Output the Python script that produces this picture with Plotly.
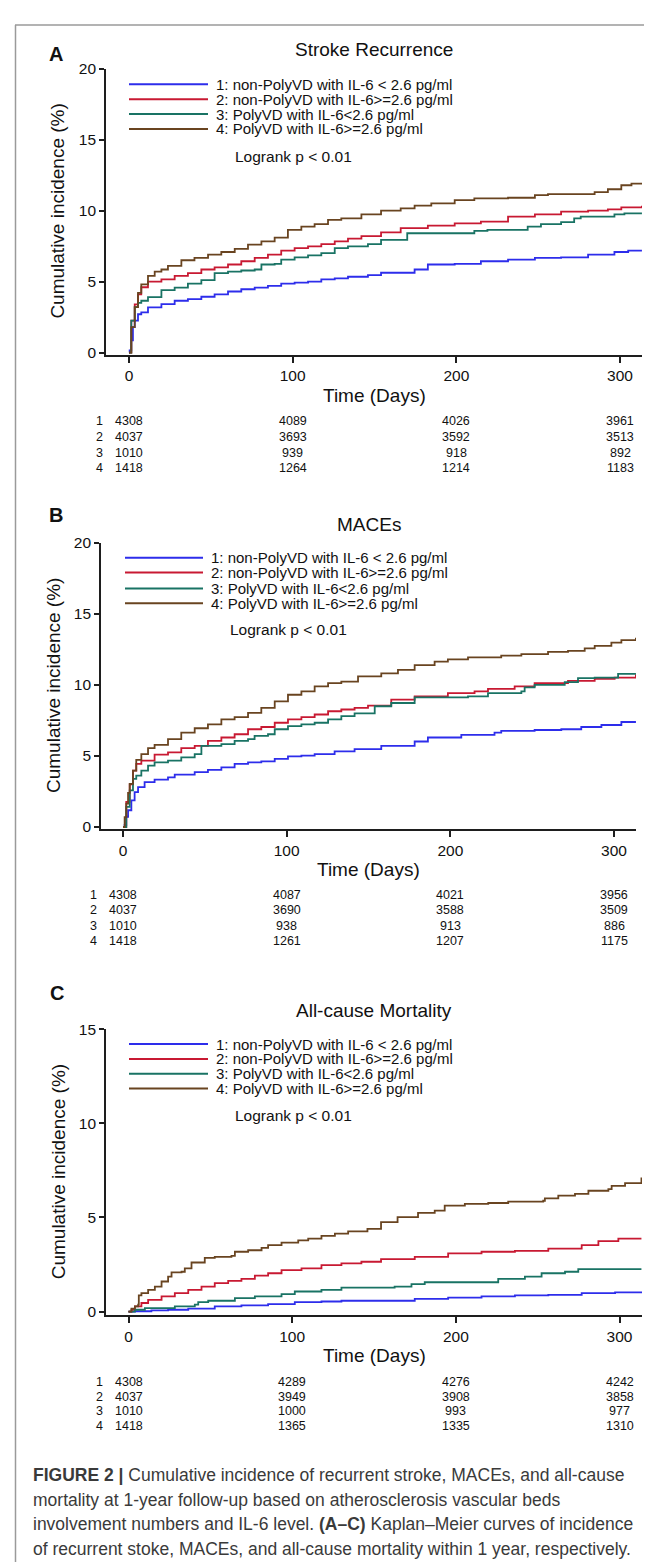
import plotly.graph_objects as go

W, H = 652, 1562
FONT = "Liberation Sans, Arial, sans-serif"

# ---------------- data ----------------
group_labels = ["1: non-PolyVD with IL-6 < 2.6 pg/ml",
                "2: non-PolyVD with IL-6>=2.6 pg/ml",
                "3: PolyVD with IL-6<2.6 pg/ml",
                "4: PolyVD with IL-6>=2.6 pg/ml"]
group_colors = ["rgb(45,45,235)", "rgb(200,25,50)", "rgb(25,115,100)", "rgb(105,68,32)"]
panel_titles = ["Stroke Recurrence", "MACEs", "All-cause Mortality"]
panel_letters = ["A", "B", "C"]
x_ticks = [0, 100, 200, 300]
risk_times = [0, 100, 200, 300]

# Panel A - stroke recurrence
A1_t = [0, 0.4, 1.4, 2.4, 3.5, 5.5, 7.5, 11.6, 19.8, 27.9, 36, 44.2, 52.3, 60.5, 68.6, 76.8, 84.9, 93, 101.2, 109.4, 117.5, 125.7, 133.8, 146, 154, 174.5, 182.6, 199, 215, 231.6, 248, 264, 280.5, 296.6, 305, 313.4]
A1_v = [0, 0.16, 0.86, 1.8, 2.25, 2.7, 2.83, 3.18, 3.41, 3.65, 3.76, 3.93, 4.1, 4.3, 4.46, 4.58, 4.69, 4.85, 4.92, 5.0, 5.16, 5.23, 5.34, 5.45, 5.62, 5.85, 6.2, 6.25, 6.43, 6.55, 6.67, 6.7, 6.9, 7.08, 7.18, 7.18]
A2_t = [0, 1.4, 3.5, 5.5, 7.5, 11.6, 19.8, 27.9, 36, 44.2, 52.3, 60.5, 68.6, 76.8, 84.9, 93, 101.2, 109.4, 117.5, 125.7, 133.8, 142, 154, 166, 182.6, 199, 215, 231.6, 248, 264, 280.5, 292.6, 300.8, 313.4]
A2_v = [0, 2.25, 3.4, 4.1, 4.6, 5.0, 5.16, 5.4, 5.6, 5.85, 6.0, 6.2, 6.43, 6.67, 6.9, 7.18, 7.36, 7.48, 7.64, 7.83, 8.03, 8.2, 8.46, 8.76, 8.94, 9.1, 9.22, 9.57, 9.73, 9.92, 10.0, 10.08, 10.22, 10.34]
A3_t = [0, 1.4, 3.5, 5.5, 7.5, 11.6, 19.8, 27.9, 36, 44.2, 52.3, 60.5, 68.6, 76.8, 80.9, 89, 93, 101.2, 109.4, 117.5, 125.7, 133.8, 146, 154, 170, 211, 219, 243.6, 251.7, 264, 272, 276, 296.6, 302.7, 313.4]
A3_v = [0, 2.25, 3.2, 3.5, 3.65, 3.9, 4.4, 4.58, 4.85, 5.1, 5.6, 5.7, 5.78, 5.85, 6.2, 6.25, 6.55, 6.7, 6.85, 7.0, 7.36, 7.48, 7.64, 7.94, 8.4, 8.57, 8.64, 8.87, 9.04, 9.18, 9.45, 9.57, 9.73, 9.8, 9.8]
A4_t = [0, 1.4, 3.5, 5.5, 7.5, 11.6, 15.7, 19.8, 23.8, 32, 40, 48.3, 56.4, 64.6, 72.7, 80.9, 89, 97.1, 105.3, 113.4, 121.6, 129.7, 142, 154, 166, 174.5, 184.7, 199, 211, 231.6, 248, 256, 278.4, 284.5, 292.6, 300.8, 307, 313.4]
A4_v = [0, 1.8, 3.2, 4.2, 4.8, 5.4, 5.7, 5.85, 6.1, 6.5, 6.67, 6.9, 7.08, 7.3, 7.6, 7.83, 8.1, 8.64, 8.87, 9.04, 9.34, 9.45, 9.73, 10.0, 10.15, 10.34, 10.5, 10.73, 10.85, 10.9, 11.08, 11.15, 11.15, 11.3, 11.5, 11.78, 11.9, 11.96]
A_risk = [[4308, 4089, 4026, 3961], [4037, 3693, 3592, 3513], [1010, 939, 918, 892], [1418, 1264, 1214, 1183]]

# Panel B - MACEs
B1_t = [0, 1, 2, 3.1, 5.1, 7.1, 9.2, 13.2, 19.3, 27.5, 31.6, 43.8, 51.9, 60.1, 68.2, 76.4, 84.5, 92.7, 100.8, 109, 117.1, 129.3, 141.5, 157.8, 178.2, 186.3, 206.7, 227, 231.1, 251.5, 267.8, 280, 292.3, 304.5, 313.4]
B1_v = [0, 0.14, 0.72, 1.18, 1.88, 2.46, 2.81, 3.16, 3.34, 3.5, 3.69, 3.86, 4.02, 4.2, 4.44, 4.55, 4.62, 4.79, 4.97, 5.02, 5.13, 5.32, 5.48, 5.71, 6.02, 6.3, 6.48, 6.64, 6.76, 6.83, 6.88, 7.04, 7.18, 7.39, 7.39]
B2_t = [0, 2, 4.1, 6.1, 8.1, 11.2, 19.3, 27.5, 35.6, 43.8, 51.9, 60.1, 68.2, 76.4, 84.5, 92.7, 100.8, 109, 117.1, 125.3, 133.4, 141.5, 149.7, 163.9, 178.2, 198.5, 214.8, 223, 239.3, 251.5, 271.9, 288.2, 300.4, 313.4]
B2_v = [0, 1.77, 3.0, 3.97, 4.44, 4.67, 5.09, 5.25, 5.55, 5.71, 6.06, 6.3, 6.53, 6.88, 7.04, 7.34, 7.57, 7.74, 7.92, 8.15, 8.27, 8.39, 8.55, 8.97, 9.2, 9.43, 9.55, 9.73, 9.9, 10.13, 10.29, 10.43, 10.52, 10.75]
B3_t = [0, 2, 4.1, 6.1, 8.1, 11.2, 15.3, 19.3, 27.5, 35.6, 43.8, 47.9, 60.1, 68.2, 76.4, 80.4, 88.6, 92.7, 100.8, 109, 117.1, 125.3, 133.4, 141.5, 153.8, 163.9, 178.2, 210.8, 223, 243.4, 245.4, 251.5, 269.9, 278, 288.2, 302.5, 313.4]
B3_v = [0, 1.42, 2.58, 3.39, 3.62, 3.97, 4.32, 4.55, 4.67, 4.9, 5.13, 5.71, 5.83, 6.06, 6.18, 6.41, 6.53, 6.88, 7.1, 7.22, 7.34, 7.57, 7.8, 8.0, 8.5, 8.73, 9.13, 9.2, 9.43, 9.55, 9.83, 10.0, 10.2, 10.48, 10.52, 10.78, 10.78]
B4_t = [0, 1, 2, 3.1, 4.1, 6.1, 8.1, 11.2, 15.3, 19.3, 27.5, 35.6, 43.8, 51.9, 60.1, 68.2, 76.4, 84.5, 92.7, 100.8, 109, 117.1, 125.3, 133.4, 143.6, 157.8, 168, 178.2, 190.4, 198.5, 210.8, 231.1, 243.4, 259.7, 271.9, 282.1, 288.2, 298.4, 304.5, 313.4]
B4_v = [0, 0.7, 1.65, 2.4, 3.04, 3.97, 4.72, 5.13, 5.55, 5.78, 6.18, 6.64, 6.95, 7.22, 7.57, 7.74, 8.04, 8.39, 8.85, 9.31, 9.55, 9.9, 10.13, 10.24, 10.6, 10.82, 11.06, 11.4, 11.64, 11.8, 11.94, 12.06, 12.17, 12.33, 12.4, 12.57, 12.75, 12.98, 13.15, 13.33]
B_risk = [[4308, 4087, 4021, 3956], [4037, 3690, 3588, 3509], [1010, 938, 913, 886], [1418, 1261, 1207, 1175]]

# Panel C - all-cause mortality
C1_t = [0, 3.9, 14, 24.2, 36.5, 52.7, 69, 85.3, 101.6, 117.9, 130.1, 174.9, 195.3, 215.7, 236.1, 256.5, 276.9, 297.3, 313.4]
C1_v = [0, 0.02, 0.07, 0.1, 0.16, 0.28, 0.33, 0.4, 0.51, 0.54, 0.58, 0.68, 0.75, 0.81, 0.86, 0.89, 0.98, 1.02, 1.07]
C2_t = [0, 1.8, 3.9, 7.9, 12, 20.2, 28.3, 36.5, 44.6, 52.7, 60.9, 69, 77.2, 85.3, 93.5, 105.7, 117.9, 130.1, 142.3, 154.3, 174.9, 195.3, 215.7, 236.1, 256.5, 276.9, 287.1, 299.3, 313.4]
C2_v = [0, 0.1, 0.28, 0.46, 0.63, 0.81, 0.98, 1.16, 1.33, 1.51, 1.63, 1.74, 1.91, 2.04, 2.21, 2.3, 2.47, 2.56, 2.65, 2.79, 2.91, 3.09, 3.18, 3.23, 3.35, 3.53, 3.74, 3.88, 3.88]
C3_t = [0, 3.9, 10, 28.3, 40.5, 42.6, 48.7, 65, 77.2, 93.5, 101.6, 117.9, 130.1, 162.6, 172.9, 181, 225.9, 242.2, 252.4, 266.7, 274.8, 313.4]
C3_v = [0, 0.1, 0.19, 0.28, 0.37, 0.51, 0.58, 0.72, 0.81, 0.93, 1.07, 1.16, 1.28, 1.33, 1.46, 1.56, 1.74, 1.86, 2.04, 2.12, 2.26, 2.26]
C4_t = [0, 1.8, 3.9, 5.9, 6.3, 7.9, 12, 16.1, 20.2, 24.2, 26.3, 32.4, 34.4, 38.5, 46.6, 52.7, 62.9, 65, 73.1, 81.3, 85.3, 93.5, 103.7, 109.8, 117.9, 126.1, 134.2, 146, 154.3, 164.4, 176.9, 187.1, 193.2, 205.5, 219.8, 232, 253.4, 254.4, 262.6, 272.8, 281, 293.2, 295.2, 303.4, 313.4]
C4_v = [0, 0.16, 0.28, 0.37, 0.86, 0.98, 1.16, 1.33, 1.6, 1.86, 2.09, 2.12, 2.3, 2.61, 2.86, 2.91, 2.96, 3.18, 3.26, 3.39, 3.53, 3.67, 3.79, 3.88, 4.02, 4.14, 4.26, 4.4, 4.75, 5.02, 5.25, 5.37, 5.63, 5.72, 5.77, 5.84, 5.89, 6.02, 6.16, 6.25, 6.42, 6.51, 6.68, 6.82, 7.12]
C_risk = [[4308, 4289, 4276, 4242], [4037, 3949, 3908, 3858], [1010, 1000, 993, 977], [1418, 1365, 1335, 1310]]

caption_lines = [
    "<b>FIGURE 2 |</b> Cumulative incidence of recurrent stroke, MACEs, and all-cause",
    "mortality at 1-year follow-up based on atherosclerosis vascular beds",
    "involvement numbers and IL-6 level. <b>(A–C)</b> Kaplan–Meier curves of incidence",
    "of recurrent stoke, MACEs, and all-cause mortality within 1 year, respectively.",
]

panels = [
    dict(curves=[(A1_t, A1_v), (A2_t, A2_v), (A3_t, A3_v), (A4_t, A4_v)], risk=A_risk,
         ymax=20, yticks=[0, 5, 10, 15, 20]),
    dict(curves=[(B1_t, B1_v), (B2_t, B2_v), (B3_t, B3_v), (B4_t, B4_v)], risk=B_risk,
         ymax=20, yticks=[0, 5, 10, 15, 20]),
    dict(curves=[(C1_t, C1_v), (C2_t, C2_v), (C3_t, C3_v), (C4_t, C4_v)], risk=C_risk,
         ymax=15, yticks=[0, 5, 10, 15]),
]

# ---------------- layout geometry (pixels) ----------------
geo = [
    dict(x0=98, x1=634, t0=121, yt=52, yb=341, ymin=-0.15, letter=(48, 37), title_y=33,
         leg_x=(121, 200), leg_tx=206, leg_y=[68, 83, 98, 113], logrank=(225, 141),
         ytitle_x=50, xtick_y=360, xtitle_y=382, risk_y=[408, 424, 440, 455], rownum_x=91),
    dict(x0=93, x1=628, t0=115, yt=531, yb=820, ymin=-0.15, letter=(48, 503), title_y=512,
         leg_x=(117, 195), leg_tx=201, leg_y=[546, 561, 577, 592], logrank=(220, 618),
         ytitle_x=45, xtick_y=839, xtitle_y=861, risk_y=[887, 902, 918, 933], rownum_x=86),
    dict(x0=98, x1=634, t0=120.5, yt=1022, yb=1311, ymin=-0.2, letter=(49, 985), title_y=1003,
         leg_x=(121, 200), leg_tx=206, leg_y=[1037, 1052, 1067, 1082], logrank=(225, 1109),
         ytitle_x=50, xtick_y=1328, xtitle_y=1351, risk_y=[1378, 1393, 1408, 1423], rownum_x=91),
]
PX_PER_DAY = (612 - 121) / 300.0


def X(px):
    return px / W


def Y(py):
    return 1 - py / H


fig = go.Figure()
annotations = []
shapes = []

for i, (p, g) in enumerate(zip(panels, geo)):
    ax = "" if i == 0 else str(i + 1)
    xa, ya = "x" + ax, "y" + ax
    for k, (t, v) in enumerate(p["curves"]):
        fig.add_trace(go.Scatter(x=t, y=v, mode="lines", xaxis=xa, yaxis=ya,
                                 line=dict(color=group_colors[k], width=1.8, shape="hv"),
                                 showlegend=False, hoverinfo="skip"))
    xr = [(g["x0"] - g["t0"]) / PX_PER_DAY, (g["x1"] - g["t0"]) / PX_PER_DAY]
    axis_common = dict(showline=True, linecolor="#1e1e1e", linewidth=1.6, ticks="outside",
                       tickcolor="#1e1e1e", tickwidth=1.5, showgrid=False, zeroline=False,
                       tickfont=dict(family=FONT, size=15.5, color="#111"))
    fig.update_layout(**{
        "xaxis" + ax: dict(domain=[X(g["x0"]), X(g["x1"])], range=xr, tickvals=x_ticks,
                           ticklen=6, anchor=ya, **axis_common),
        "yaxis" + ax: dict(domain=[Y(g["yb"]), Y(g["yt"])], range=[g["ymin"], p["ymax"]],
                           tickvals=p["yticks"], ticklen=5, anchor=xa, **axis_common),
    })
    # panel letter and title
    annotations.append(dict(x=X(g["letter"][0]), y=Y(g["letter"][1]), xref="paper", yref="paper",
                            text="<b>%s</b>" % panel_letters[i], showarrow=False,
                            font=dict(family=FONT, size=20, color="#111"), xanchor="center", yanchor="middle"))
    annotations.append(dict(x=X((g["x0"] + g["x1"]) / 2), y=Y(g["title_y"]), xref="paper", yref="paper",
                            text=panel_titles[i], showarrow=False,
                            font=dict(family=FONT, size=19, color="#111"), xanchor="center", yanchor="middle"))
    # legend
    for k in range(4):
        shapes.append(dict(type="line", xref="paper", yref="paper",
                           x0=X(g["leg_x"][0]), x1=X(g["leg_x"][1]), y0=Y(g["leg_y"][k]), y1=Y(g["leg_y"][k]),
                           line=dict(color=group_colors[k], width=2)))
        annotations.append(dict(x=X(g["leg_tx"]), y=Y(g["leg_y"][k]), xref="paper", yref="paper",
                                text=group_labels[k], showarrow=False, xanchor="left", yanchor="middle",
                                font=dict(family=FONT, size=15, color="#111")))
    annotations.append(dict(x=X(g["logrank"][0]), y=Y(g["logrank"][1]), xref="paper", yref="paper",
                            text="Logrank p < 0.01", showarrow=False, xanchor="left", yanchor="middle",
                            font=dict(family=FONT, size=15.5, color="#111")))
    # axis titles
    annotations.append(dict(x=X(g["ytitle_x"]), y=Y((g["yt"] + g["yb"]) / 2), xref="paper", yref="paper",
                            text="Cumulative incidence (%)", textangle=-90, showarrow=False,
                            xanchor="center", yanchor="middle",
                            font=dict(family=FONT, size=19, color="#111")))
    annotations.append(dict(x=X((g["x0"] + g["x1"]) / 2), y=Y(g["xtitle_y"]), xref="paper", yref="paper",
                            text="Time (Days)", showarrow=False, xanchor="center", yanchor="middle",
                            font=dict(family=FONT, size=19, color="#111")))
    # number at risk table
    for r in range(4):
        annotations.append(dict(x=X(g["rownum_x"]), y=Y(g["risk_y"][r]), xref="paper", yref="paper",
                                text=str(r + 1), showarrow=False, xanchor="center", yanchor="middle",
                                font=dict(family=FONT, size=12.5, color="#111")))
        for c, tt in enumerate(risk_times):
            annotations.append(dict(x=tt, y=Y(g["risk_y"][r]), xref=xa, yref="paper",
                                    text=str(p["risk"][r][c]), showarrow=False, xanchor="center",
                                    yanchor="middle", font=dict(family=FONT, size=12.5, color="#111")))

# caption
for j, line in enumerate(caption_lines):
    annotations.append(dict(x=X(23), y=Y(1472 + 25 * j), xref="paper", yref="paper", text=line,
                            showarrow=False, xanchor="left", yanchor="middle", align="left",
                            font=dict(family=FONT, size=17.5, color="#3a3a3a")))

# frame lines (left and top border of the figure box)
shapes.append(dict(type="line", xref="paper", yref="paper", x0=X(7.5), x1=X(7.5), y0=Y(8), y1=0,
                   line=dict(color="#9a9a9a", width=1.5)))
shapes.append(dict(type="line", xref="paper", yref="paper", x0=X(7), x1=1, y0=Y(8), y1=Y(8),
                   line=dict(color="#9a9a9a", width=1.5)))

fig.update_layout(width=W, height=H, margin=dict(l=0, r=0, t=0, b=0),
                  paper_bgcolor="white", plot_bgcolor="white",
                  annotations=annotations, shapes=shapes, showlegend=False,
                  font=dict(family=FONT))

fig.write_html("out.html")
